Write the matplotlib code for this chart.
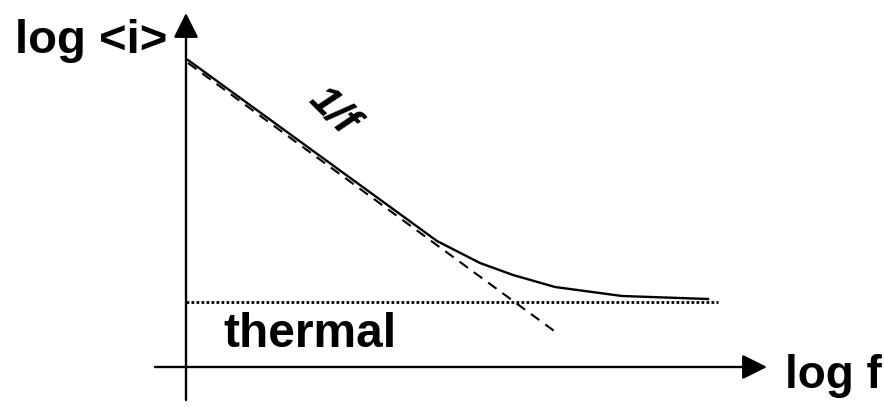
import numpy as np
import matplotlib
matplotlib.use('Agg')
import matplotlib.pyplot as plt

# sketch of noise spectrum: log <i> vs log f (arbitrary units)
curve_x = [0.02, 2.51, 2.94, 3.27, 3.69, 4.36, 5.22]
curve_y = [3.07, 1.26, 1.04, 0.92, 0.80, 0.71, 0.68]
asym_x = [0.02, 3.71]          # 1/f asymptote (dashed)
asym_y = [3.04, 0.34]
thermal_x = [0.0, 5.32]        # thermal floor (dotted)
thermal_y = [0.65, 0.65]

plt.rcParams['font.family'] = ['Liberation Sans', 'DejaVu Sans']

fig = plt.figure(figsize=(8.84, 4.07), dpi=100)
ax = fig.add_axes([0, 0, 1, 1])
ax.set_xlim(-1.86, 6.98)
ax.set_ylim(-0.40, 3.67)
ax.axis('off')

# axes with arrows
arr = dict(arrowstyle='-|>,head_length=0.4,head_width=0.2', mutation_scale=38,
           lw=1.7, color='black', shrinkA=0, shrinkB=0)
ax.annotate('', xy=(0, 3.54), xytext=(0, -0.33), arrowprops=arr)
ax.annotate('', xy=(5.81, 0), xytext=(-0.31, 0), arrowprops=arr)

ax.plot(curve_x, curve_y, color='black', lw=1.7, solid_joinstyle='round')
ax.plot(asym_x, asym_y, color='black', lw=1.5, dashes=(5, 3.5))
ax.plot(thermal_x, thermal_y, color='black', lw=2.0, dashes=(1.0, 0.8))

fs = 34
ax.text(-1.71, 3.14, 'log <i>', fontsize=fs, fontweight='bold', ha='left', va='baseline')
ax.text(5.99, -0.21, 'log f', fontsize=33, fontweight='bold', ha='left', va='baseline')
ax.text(0.37, 0.20, 'thermal', fontsize=34.5, fontweight='bold', ha='left', va='baseline')
ax.text(1.47, 2.56, '1/f', fontsize=31, fontweight='bold', fontstyle='italic',
        ha='center', va='center', rotation=-45, rotation_mode='anchor')

plt.savefig('out.png', dpi=100)
plt.close()
